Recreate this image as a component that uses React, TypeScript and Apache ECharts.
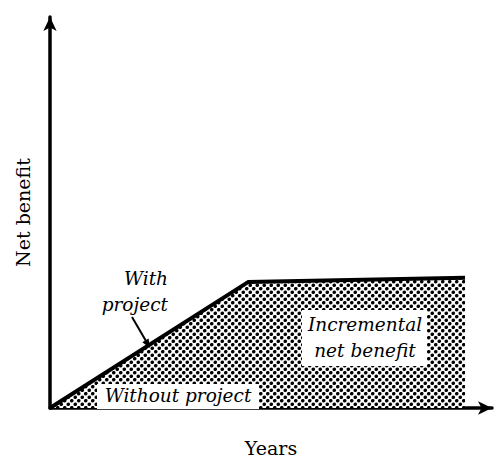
import React, { useEffect, useRef } from "react";
import * as echarts from "echarts";

// Years (x) and net benefit (y) of the "with project" path
const years = [0, 4.48, 9.39];
const withProject = [0, 3.22, 3.33];
const withoutProject = [0, 0];
const withoutYears = [0, 9.39];

const serif = "DejaVu Serif";

function makeDots(): HTMLCanvasElement {
  const c = document.createElement("canvas");
  c.width = 7;
  c.height = 7;
  const ctx = c.getContext("2d")!;
  ctx.fillStyle = "#fff";
  ctx.fillRect(0, 0, 7, 7);
  ctx.fillStyle = "#000";
  const pts = [
    [1.75, 1.75],
    [5.25, 5.25],
    [-1.75, 5.25],
    [5.25, -1.75],
    [8.75, 1.75],
    [1.75, 8.75],
  ];
  for (const [x, y] of pts) {
    ctx.beginPath();
    ctx.arc(x, y, 1.8, 0, Math.PI * 2);
    ctx.fill();
  }
  return c;
}

export default function App() {
  const ref = useRef<HTMLDivElement>(null);
  useEffect(() => {
    if (!ref.current) return;
    const chart = echarts.init(ref.current, undefined, { renderer: "svg" });
    const dots = makeDots();
    const italic = {
      fontFamily: serif,
      fontStyle: "italic",
      fontSize: 18.5,
      fill: "#000",
    };
    chart.setOption({
      animation: false,
      backgroundColor: "#fff",
      grid: { left: 50, right: 5, top: 17, bottom: 49 },
      xAxis: {
        type: "value",
        min: 0,
        max: 10,
        name: "Years",
        nameLocation: "middle",
        nameGap: 30,
        nameTextStyle: { fontFamily: serif, fontSize: 19, color: "#000" },
        axisLine: {
          show: true,
          symbol: ["none", "arrow"],
          symbolSize: [10, 14],
          lineStyle: { color: "#000", width: 3.5 },
        },
        axisTick: { show: false },
        axisLabel: { show: false },
        splitLine: { show: false },
      },
      yAxis: {
        type: "value",
        min: 0,
        max: 10,
        name: "Net benefit",
        nameLocation: "middle",
        nameGap: 18,
        nameTextStyle: { fontFamily: serif, fontSize: 19, color: "#000" },
        axisLine: {
          show: true,
          symbol: ["none", "arrow"],
          symbolSize: [10, 14],
          lineStyle: { color: "#000", width: 3.5 },
        },
        axisTick: { show: false },
        axisLabel: { show: false },
        splitLine: { show: false },
      },
      series: [
        {
          name: "With project",
          type: "line",
          data: years.map((x, i) => [x, withProject[i]]),
          symbol: "none",
          lineStyle: { color: "#000", width: 4 },
          areaStyle: {
            opacity: 1,
            color: {
              image: dots,
              repeat: "repeat",
              imageWidth: 7,
              imageHeight: 7,
            } as any,
          },
          z: 2,
        },
        {
          name: "Without project",
          type: "line",
          data: withoutYears.map((x, i) => [x, withoutProject[i]]),
          symbol: "none",
          lineStyle: { color: "#000", width: 0 },
          z: 1,
        },
      ],
      graphic: [
        {
          type: "rect",
          z: 100,
          shape: { x: 302, y: 310, width: 125, height: 56 },
          style: { fill: "#fff" },
        },
        {
          type: "text",
          z: 101,
          x: 365,
          y: 324,
          style: { ...italic, text: "Incremental", textAlign: "center", textVerticalAlign: "middle" },
        },
        {
          type: "text",
          z: 101,
          x: 365,
          y: 350,
          style: { ...italic, text: "net benefit", textAlign: "center", textVerticalAlign: "middle" },
        },
        {
          type: "rect",
          z: 100,
          shape: { x: 97, y: 384, width: 162, height: 25 },
          style: { fill: "#fff" },
        },
        {
          type: "text",
          z: 101,
          x: 178,
          y: 395,
          style: { ...italic, text: "Without project", textAlign: "center", textVerticalAlign: "middle" },
        },
        {
          type: "text",
          z: 101,
          x: 168,
          y: 278,
          style: { ...italic, text: "With", textAlign: "right", textVerticalAlign: "middle" },
        },
        {
          type: "text",
          z: 101,
          x: 168,
          y: 304,
          style: { ...italic, text: "project", textAlign: "right", textVerticalAlign: "middle" },
        },
        {
          type: "line",
          z: 101,
          shape: { x1: 132, y1: 317, x2: 146, y2: 341 },
          style: { stroke: "#000", lineWidth: 2 },
        },
        {
          type: "polygon",
          z: 101,
          shape: {
            points: [
              [150, 348],
              [142.3, 342.3],
              [148.6, 338.6],
            ],
          },
          style: { fill: "#000" },
        },
      ],
    });
    return () => chart.dispose();
  }, []);
  return (
    <div
      ref={ref}
      style={{ position: "absolute", left: 0, top: 0, width: 497, height: 462 }}
    />
  );
}
